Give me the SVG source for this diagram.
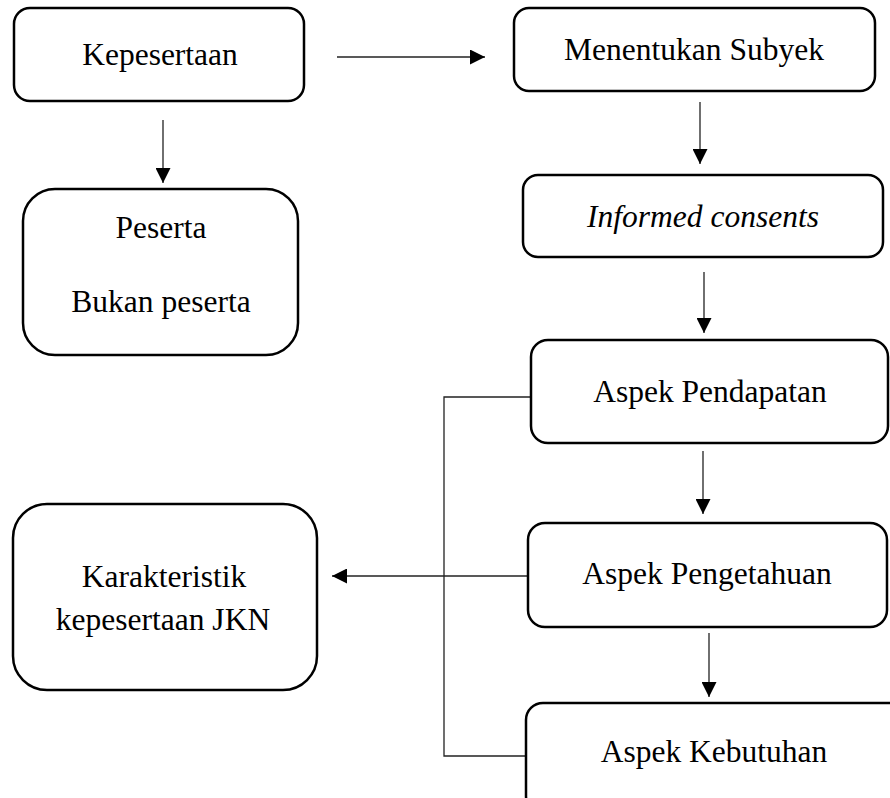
<svg xmlns="http://www.w3.org/2000/svg" width="890" height="798" viewBox="0 0 890 798">
<style>
.box{fill:#fff;stroke:#000;stroke-width:2.5}
.t{font-family:"Liberation Serif","Times New Roman",serif;font-size:31.5px;fill:#000;text-anchor:middle}
.c{fill:none;stroke:#222;stroke-width:1.3}
</style>
<defs>
<marker id="ah" viewBox="0 0 15 15" refX="15" refY="7.5" markerWidth="15" markerHeight="15" markerUnits="userSpaceOnUse" orient="auto">
<path d="M0,0 L15,7.5 L0,15 Z" fill="#000"/>
</marker>
</defs>
<rect width="890" height="798" fill="#fff"/>
<g id="connectors">
<line class="c" x1="337" y1="57" x2="485" y2="57" marker-end="url(#ah)"/>
<line class="c" x1="163" y1="120" x2="163" y2="183" marker-end="url(#ah)"/>
<line class="c" x1="700" y1="102" x2="700" y2="164" marker-end="url(#ah)"/>
<line class="c" x1="704" y1="272" x2="704" y2="333" marker-end="url(#ah)"/>
<line class="c" x1="703" y1="451" x2="703" y2="514" marker-end="url(#ah)"/>
<line class="c" x1="709" y1="633" x2="709" y2="697" marker-end="url(#ah)"/>
<polyline class="c" points="531,397 444,397 444,756 527,756"/>
<line class="c" x1="528" y1="576" x2="332" y2="576" marker-end="url(#ah)"/>
</g>
<g id="kepesertaan">
<rect class="box" x="14" y="8" width="290" height="93" rx="16"/>
<text class="t" x="160" y="65">Kepesertaan</text>
</g>
<g id="peserta">
<rect class="box" x="23" y="189" width="275" height="166" rx="32"/>
<text class="t" x="161" y="238">Peserta</text>
<text class="t" x="161" y="312">Bukan peserta</text>
</g>
<g id="menentukan">
<rect class="box" x="514" y="8" width="361" height="83" rx="15"/>
<text class="t" x="694" y="60">Menentukan Subyek</text>
</g>
<g id="informed">
<rect class="box" x="523" y="175" width="360" height="82" rx="15"/>
<text class="t" x="703" y="227" font-style="italic">Informed consents</text>
</g>
<g id="pendapatan">
<rect class="box" x="531" y="340" width="357" height="103" rx="17"/>
<text class="t" x="710" y="402">Aspek Pendapatan</text>
</g>
<g id="pengetahuan">
<rect class="box" x="528" y="523" width="359" height="104" rx="17"/>
<text class="t" x="707" y="584">Aspek Pengetahuan</text>
</g>
<g id="kebutuhan">
<rect class="box" x="526" y="703" width="380" height="110" rx="17"/>
<text class="t" x="714" y="762">Aspek Kebutuhan</text>
</g>
<g id="karakteristik">
<rect class="box" x="13" y="504" width="304" height="186" rx="34"/>
<text class="t" x="164" y="587">Karakteristik</text>
<text class="t" x="163" y="630">kepesertaan JKN</text>
</g>
</svg>
